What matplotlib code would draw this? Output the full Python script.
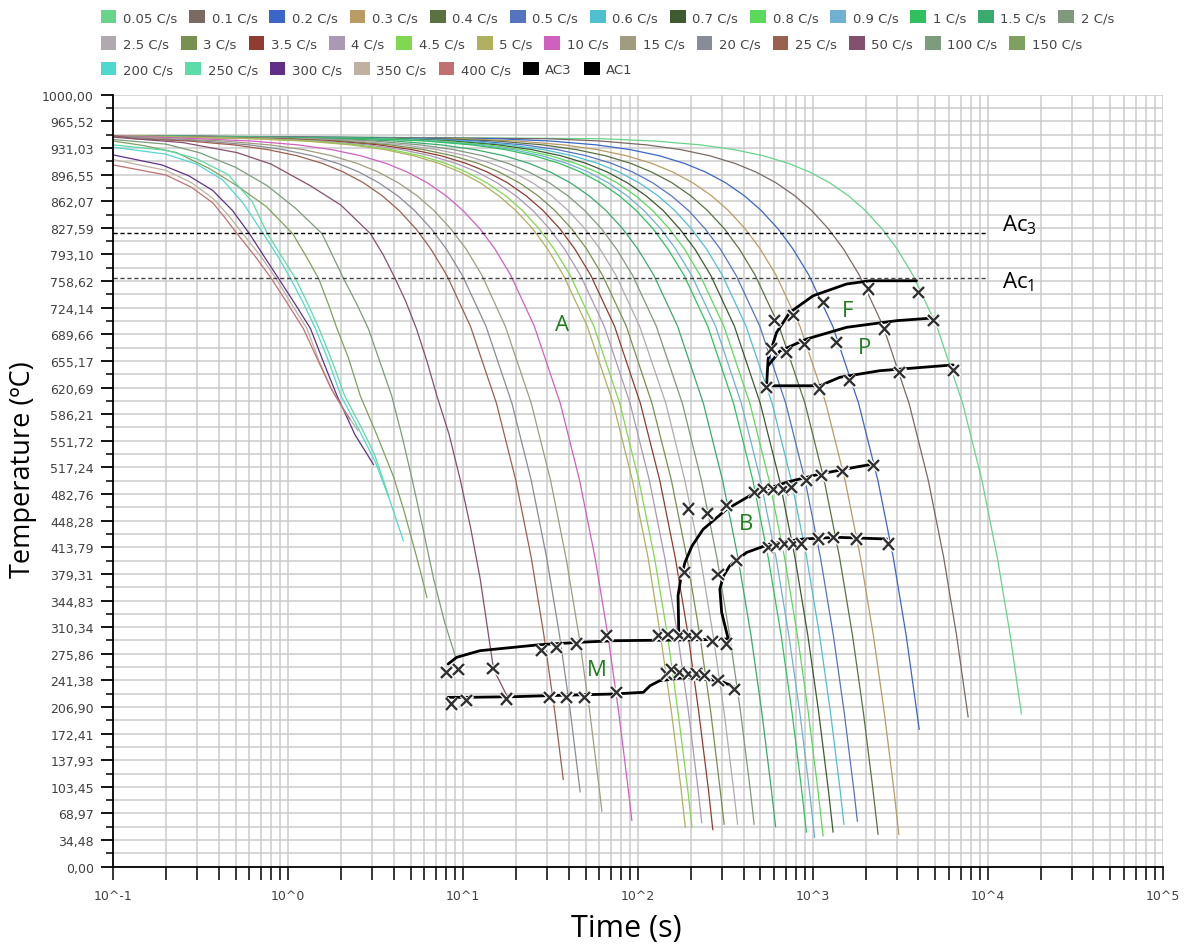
import matplotlib

matplotlib.use("Agg")
import matplotlib.pyplot as plt
import matplotlib.patheffects as pe
import numpy as np
from matplotlib.patches import Patch
from matplotlib.ticker import LogLocator, NullFormatter

# cooling rates (C/s) and their legend colours
rates = [0.05, 0.1, 0.2, 0.3, 0.4, 0.5, 0.6, 0.7, 0.8, 0.9, 1, 1.5, 2, 2.5, 3,
         3.5, 4, 4.5, 5, 10, 15, 20, 25, 50, 100, 150, 200, 250, 300, 350, 400]
colors = ['#66d48a', '#7a6a62', '#3a66c8', '#b89c64', '#5a7242', '#5474c0',
          '#4ec0d0', '#3e5a30', '#5cd85a', '#70b0d0', '#30c060', '#3aaa6e',
          '#80987c', '#b0aab0', '#789050', '#903c30', '#aa98b4', '#80d850',
          '#b0b060', '#d060c0', '#a09c80', '#888c98', '#9c6050', '#845070',
          '#7c9c7c', '#80a060', '#50d8d0', '#5cdca8', '#603088', '#c0b0a0',
          '#c07070']

# slow curves (0.05 .. 25 C/s): time (s) at which each one crosses these temperatures
levels = [943, 940, 935, 929, 921, 911, 900, 886, 869, 850, 826, 800, 766, 700,
          600, 500, 400, 300, 200, 100]
slow_start = 947
slow_times = [
    [62.1, 124, 228, 352, 518, 725, 952, 1242, 1594, 1987, 2484, 3022, 3726, 5092,
     7162, 9232, 11302, 13372],
    [30.7, 61.3, 112, 174, 256, 358, 470, 613, 787, 981, 1226, 1492, 1840, 2514,
     3536, 4558, 5580, 6602],
    [15.8, 31.6, 57.9, 89.5, 132, 184, 242, 316, 405, 505, 632, 768, 947, 1295,
     1821, 2347, 2874, 3400],
    [10.3, 20.5, 37.6, 58.1, 85.5, 120, 157, 205, 263, 328, 410, 499, 615, 841,
     1183, 1524, 1866, 2208, 2550, 2892],
    [7.79, 15.6, 28.6, 44.1, 64.9, 90.9, 119, 156, 200, 249, 312, 379, 467, 639,
     899, 1158, 1418, 1678, 1937, 2197],
    [6.05, 12.1, 22.2, 34.3, 50.5, 70.6, 92.8, 121, 155, 194, 242, 295, 363, 496,
     698, 900, 1102, 1304, 1505, 1707],
    [5.05, 10.1, 18.5, 28.6, 42.1, 58.9, 77.5, 101, 130, 162, 202, 246, 303, 414,
     583, 751, 919, 1088, 1256, 1425],
    [4.33, 8.66, 15.9, 24.5, 36.1, 50.5, 66.4, 86.6, 111, 139, 173, 211, 260, 355,
     499, 644, 788, 932, 1076, 1221],
    [3.77, 7.55, 13.8, 21.4, 31.5, 44.0, 57.9, 75.5, 96.9, 121, 151, 184, 226, 309,
     435, 561, 687, 813, 938, 1064],
    [3.37, 6.74, 12.4, 19.1, 28.1, 39.3, 51.7, 67.4, 86.5, 108, 135, 164, 202, 277,
     389, 501, 614, 726, 839, 951],
    [3.05, 6.09, 11.2, 17.3, 25.4, 35.5, 46.7, 60.9, 78.2, 97.4, 122, 148, 183, 250,
     351, 453, 554, 656, 757, 859],
    [2.05, 4.09, 7.50, 11.6, 17.1, 23.9, 31.4, 40.9, 52.5, 65.5, 81.8, 99.6, 123, 168,
     236, 304, 372, 441, 509, 577],
    [1.55, 3.10, 5.68, 8.77, 12.9, 18.1, 23.7, 31.0, 39.7, 49.5, 61.9, 75.3, 92.9, 127,
     179, 230, 282, 333, 385, 437],
    [1.25, 2.49, 4.57, 7.06, 10.4, 14.5, 19.1, 24.9, 32.0, 39.8, 49.8, 60.6, 74.7, 102,
     144, 185, 227, 268, 310, 351],
    [1.04, 2.09, 3.83, 5.92, 8.70, 12.2, 16.0, 20.9, 26.8, 33.4, 41.8, 50.8, 62.6, 85.6,
     120, 155, 190, 225, 260, 294],
    [0.89, 1.79, 3.28, 5.07, 7.45, 10.4, 13.7, 17.9, 22.9, 28.6, 35.8, 43.5, 53.6, 73.3,
     103, 133, 163, 193, 222, 252],
    [0.78, 1.56, 2.86, 4.42, 6.50, 9.10, 12.0, 15.6, 20.0, 25.0, 31.2, 38.0, 46.8, 64.0,
     90.0, 116, 142, 168, 194, 220],
    [0.68, 1.36, 2.50, 3.86, 5.68, 7.95, 10.4, 13.6, 17.5, 21.8, 27.2, 33.1, 40.9, 55.8,
     78.5, 101, 124, 147, 169, 192],
    [0.62, 1.25, 2.29, 3.54, 5.20, 7.28, 9.57, 12.5, 16.0, 20.0, 25.0, 30.4, 37.4, 51.2,
     72.0, 92.8, 114, 134, 155, 176],
    [0.31, 0.62, 1.14, 1.76, 2.59, 3.63, 4.77, 6.23, 7.99, 9.96, 12.5, 15.2, 18.7, 25.5,
     35.9, 46.3, 56.7, 67.1, 77.4, 87.8],
    [0.21, 0.43, 0.78, 1.21, 1.77, 2.48, 3.26, 4.25, 5.46, 6.81, 8.51, 10.4, 12.8, 17.4,
     24.5, 31.6, 38.7, 45.8, 52.9, 60.0],
    [0.165, 0.33, 0.60, 0.93, 1.37, 1.92, 2.53, 3.29, 4.23, 5.27, 6.59, 8.02, 9.88, 13.5,
     19.0, 24.5, 30.0, 35.5, 41.0],
    [0.134, 0.27, 0.49, 0.76, 1.12, 1.57, 2.06, 2.69, 3.45, 4.30, 5.38, 6.54, 8.06, 11.0,
     15.5, 20.0, 24.5, 28.9, 33.4],
]
slow_end_time = [15500, 7690, 4040, 3090, 2350, 1790, 1500, 1300, 1140, 1020,
                 915, 610, 460, 370, 310, 267, 231, 203, 186, 92, 62, 46.6, 37.3]
slow_end_temp = [198, 194, 178, 42, 42, 59, 55, 45, 40, 38, 45, 52, 55, 55, 55,
                 48, 57, 51, 51, 60, 72, 97, 113]

# fast curves (50 .. 400 C/s), read point by point
fast_times = [
    [0.1, 0.25, 0.51, 0.8, 1.34, 2.0, 2.95, 3.5, 4.08, 4.7, 5.4, 6.2, 7.07, 8.3, 9.6,
     11, 12.5, 14.9, 17.8],
    [0.1, 0.2, 0.31, 0.5, 0.76, 1.1, 1.56, 2.07, 2.45, 2.87, 3.9, 4.5, 5.1, 5.9, 6.77,
     7.8, 9.0],
    [0.1, 0.15, 0.23, 0.35, 0.51, 0.75, 1.06, 1.27, 1.49, 1.7, 1.9, 2.2, 2.58, 3.2, 4.0,
     4.6, 5.2, 5.7, 6.2],
    [0.1, 0.2, 0.3, 0.42, 0.55, 0.72, 0.87, 1.03, 1.22, 1.43, 1.7, 2.0, 2.55, 3.15, 3.8,
     4.55],
    [0.1, 0.2, 0.3, 0.45, 0.62, 0.76, 0.92, 1.1, 1.3, 1.5, 1.8, 2.1, 2.6, 3.1, 3.74],
    [0.1, 0.19, 0.27, 0.37, 0.48, 0.6, 0.73, 0.88, 1.1, 1.34, 1.6, 1.9, 2.4, 3.07],
    [0.1, 0.2, 0.28, 0.37, 0.45, 0.55, 0.7, 0.85, 1.05, 1.28, 1.5, 1.8, 2.1, 2.5],
    [0.1, 0.2, 0.28, 0.37, 0.43, 0.51, 0.65, 0.8, 1.0, 1.22, 1.45, 1.75, 2.0, 2.25],
]
fast_temps = [
    [945, 938, 925, 910, 882, 857, 820, 792, 762, 732, 697, 655, 610, 560, 502,
     440, 373, 256, 221],
    [942, 936, 925, 906, 882, 853, 820, 762, 730, 697, 610, 555, 502, 437, 373,
     318, 273],
    [940, 934, 925, 905, 882, 855, 820, 790, 762, 728, 697, 660, 610, 560, 505,
     460, 416, 382, 349],
    [932, 923, 910, 890, 860, 820, 791, 762, 730, 697, 655, 610, 565, 524, 475, 422],
    [935, 928, 917, 897, 862, 820, 790, 762, 728, 697, 652, 610, 570, 535, 481],
    [922, 909, 895, 876, 850, 820, 790, 762, 728, 697, 652, 610, 560, 521],
    [916, 902, 886, 866, 845, 820, 790, 762, 728, 697, 655, 615, 590, 565],
    [909, 896, 880, 860, 842, 820, 790, 762, 728, 697, 660, 620, 598, 580],
]

ac3, ac1 = 820.5, 762.6

# transformation boundaries (time s, temperature C)
ms_t = [8.2, 9.17, 12.45, 27.4, 46.4, 71.6, 225, 327]
ms_T = [262.6, 271.2, 279.8, 287.6, 290.7, 292.7, 294, 295]
mf_t = [8.2, 10.45, 19.3, 30, 72, 107, 117, 133, 189, 293, 357]
mf_T = [219.4, 219.4, 220.2, 221.5, 223.7, 225.9, 234.5, 241, 245.3, 241, 232.4]
bs_t = [171, 169, 175, 185, 203, 235, 320, 454, 705, 1092, 1693, 2203]
bs_T = [294, 351, 372.7, 394, 415.4, 437, 463, 483, 498, 508.7, 517, 521.6]
bf_t = [327, 300, 293, 307, 334, 416, 566, 877, 1361, 2627]
bf_T = [295, 329.5, 359.7, 376.5, 390, 407, 418, 424.5, 426.7, 424.5]
fs_t = [542, 553, 618, 736, 1000, 1552, 2109, 3898]
fs_T = [623, 657.6, 692, 718, 739.6, 754.8, 759, 759]
ps_t = [553, 646, 917, 1552, 2999, 4853]
ps_T = [649, 668, 683.5, 698.7, 707.3, 710.8]
pf_t = [542, 1092, 1422, 2405, 6310]
pf_T = [623, 623, 634, 642.5, 650]

# measured transformation points (X marks)
mark_t = [8.04, 9.36, 14.8, 28.1, 34.2, 44.5, 65.9, 130, 148, 173, 193, 216, 266, 320,
          193, 248, 320, 464, 518, 591, 674, 752, 916, 1117, 1473, 2203, 185,
          286, 365, 553, 618, 689, 769, 859, 1068, 1301, 1770, 2685,
          8.6, 10.4, 17.7, 31.3, 39, 49.6, 75.3, 145, 155, 173, 193, 216, 240, 286, 357,
          604, 769, 1140, 2061, 3981, 578, 705, 895, 1361, 2570, 4853,
          542, 1092, 1622, 3126, 6310]
mark_T = [251.8, 256, 257, 279.8, 284.2, 288.5, 299, 299, 301, 299, 299, 299, 291.5, 288.5,
          463.3, 457, 467.6, 485, 489, 489, 489, 491, 500, 506.5, 511.7, 519.4, 381.3,
          379, 396.4, 413.7, 415.8, 418, 418, 418, 424.5, 426.7, 424.5, 418,
          210.7, 215, 217.2, 219.4, 219.4, 219.4, 225.9, 249.6, 256, 251.8, 249.6, 249.6,
          247.4, 241, 230,
          707.3, 713.7, 731, 748.3, 744, 670.6, 666.3, 677, 679.3, 696.5, 707.3,
          621, 618.8, 629.5, 640.4, 642.5]

phase_labels = ["A", "F", "P", "B", "M"]
phase_t = [36.6, 1578, 1972, 412, 58]
phase_T = [702.7, 720, 673, 445, 256]

fig = plt.figure(figsize=(11.84, 9.45), dpi=100)
ax = fig.add_axes([0.0957, 0.0818, 0.8866, 0.8169])
ax.set_xscale("log")
ax.set_xlim(0.1, 1e5)
ax.set_ylim(0, 1000)

for i, times in enumerate(slow_times):
    t = [0.1] + times + [slow_end_time[i]]
    T = [slow_start] + levels[:len(times)] + [slow_end_temp[i]]
    ax.plot(t, T, color=colors[i], lw=0.9)
for j, times in enumerate(fast_times):
    ax.plot(times, fast_temps[j], color=colors[len(slow_times) + j], lw=0.9)

ax.plot([0.1, 1e4], [ac3, ac3], color="black", lw=1.0, ls=(0, (3, 2)))
ax.plot([0.1, 1e4], [ac1, ac1], color="#444444", lw=1.0, ls=(0, (3, 2)))

for tt, TT in [(ms_t, ms_T), (mf_t, mf_T), (bs_t, bs_T), (bf_t, bf_T),
               (fs_t, fs_T), (ps_t, ps_T), (pf_t, pf_T)]:
    ax.plot(tt, TT, color="black", lw=2.0, solid_capstyle="round",
            solid_joinstyle="round")

ax.plot(mark_t, mark_T, ls="none", marker="x", ms=8, mew=1.7, color="#303030",
        path_effects=[pe.withStroke(linewidth=3.5, foreground="white")])

for lab, tt, TT in zip(phase_labels, phase_t, phase_T):
    ax.text(tt, TT, lab, color="#1f7f1f", fontsize=16, ha="center", va="center",
            family="Open Sans")

ax.text(1.2e4, 832, r"Ac$_\mathregular{3}$", fontsize=16, va="center", family="Open Sans")
ax.text(1.2e4, 759, r"Ac$_\mathregular{1}$", fontsize=16, va="center", family="Open Sans")

# axes styling
ax.set_xticks([10.0 ** k for k in range(-1, 6)])
ax.set_xticklabels([f"10^{k}" for k in range(-1, 6)])
ax.xaxis.set_minor_locator(LogLocator(base=10, subs=range(2, 10)))
ax.xaxis.set_minor_formatter(NullFormatter())
yt = np.linspace(0, 1000, 30)
ax.set_yticks(yt)
ax.set_yticklabels([f"{v:.2f}".replace(".", ",") for v in yt])
ax.set_yticks(np.linspace(0, 1000, 59), minor=True)

ax.grid(which="both", color="#cbcbcb", lw=1.1)
ax.set_axisbelow(True)
for s in ["top", "right"]:
    ax.spines[s].set_visible(False)
for s in ["left", "bottom"]:
    ax.spines[s].set_linewidth(1.3)
ax.tick_params(axis="y", which="major", length=9, width=1.3, pad=5,
               labelsize=9, labelcolor="#404040")
ax.tick_params(axis="y", which="minor", length=5, width=1.1)
ax.tick_params(axis="x", which="both", length=9, width=1.1, pad=7,
               labelsize=9, labelcolor="#404040")

fig.text(0.0195, 0.5026, "Temperature (ºC)", rotation=90, ha="center", va="center",
         fontsize=19.5, family="Open Sans")
fig.text(0.529, 0.017, "Time (s)", ha="center", va="center", fontsize=22,
         family="Open Sans")

# legend: three single-row legends so entries flow like the original
row_ranges = [(0, 13), (13, 26), (26, 31)]
row_y = [0.981, 0.953, 0.926]
for (a, b), y in zip(row_ranges, row_y):
    handles = [Patch(facecolor=colors[k], edgecolor="none", label=f"{rates[k]:g} C/s")
               for k in range(a, b)]
    if b == len(rates):
        handles += [Patch(facecolor="black", label="AC3"),
                    Patch(facecolor="black", label="AC1")]
    leg = fig.legend(handles=handles, loc="center left", bbox_to_anchor=(0.085, y),
                     ncol=len(handles), frameon=False, fontsize=9.5,
                     handlelength=1.2, handleheight=1.2, handletextpad=0.5,
                     columnspacing=0.9, borderpad=0, borderaxespad=0)
    for txt in leg.get_texts():
        txt.set_color("#454545")

fig.savefig("out.png", dpi=100)
